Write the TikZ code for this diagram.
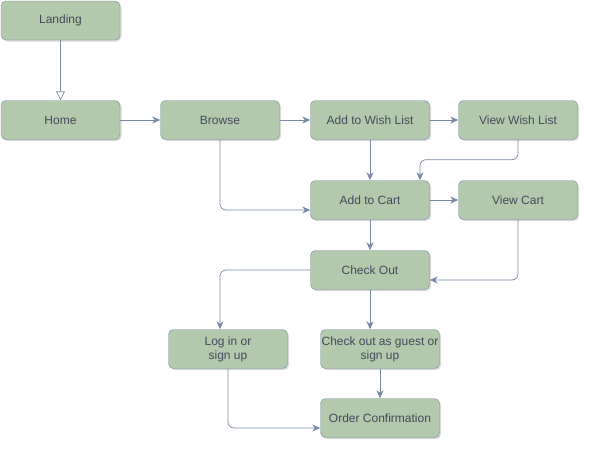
\documentclass[tikz,border=0pt]{standalone}
\usepackage{fontspec}
\setmainfont{Liberation Sans}
\usetikzlibrary{arrows.meta, shadows}
\definecolor{boxfill}{HTML}{B2C9AB}
\definecolor{boxline}{HTML}{788AA3}
\definecolor{boxtext}{HTML}{46495D}
\tikzset{
  page/.style={x=1pt, y=-1pt},
  box/.style={draw=boxline, fill=boxfill, text=boxtext, rounded corners=5pt,
    minimum width=119pt, minimum height=39pt, inner sep=0pt, align=center,
    font=\fontsize{12}{14}\selectfont,
    drop shadow={shadow xshift=1.5pt, shadow yshift=-1.5pt, opacity=0.25, fill=black!60}},
  link/.style={draw=boxline, line width=0.7pt, rounded corners=6pt,
    -{Stealth[length=8pt, width=7pt, inset=2.5pt]}},
}
\begin{document}
\begin{tikzpicture}[page]
  \useasboundingbox (0,0) rectangle (590,450);
  \node[box] (landing) at (60.5,20.5) {Landing};
  \node[box] (home) at (60.5,120) {Home};
  \node[box] (browse) at (220,120) {Browse};
  \node[box] (wish) at (370,120) {Add to Wish List};
  \node[box] (vwish) at (518,120) {View Wish List};
  \node[box] (cart) at (370,200) {Add to Cart};
  \node[box] (vcart) at (518,200) {View Cart};
  \node[box] (checkout) at (370,270) {Check Out};
  \node[box] (login) at (228,349) {Log in or\\sign up};
  \node[box] (guest) at (380,349) {Check out as guest or\\sign up};
  \node[box] (order) at (380,418) {Order Confirmation};
  % connectors
  \draw[draw=boxline, line width=0.7pt, -{Triangle[open, length=9pt, width=9pt]}] (landing) -- (home);
  \draw[link] (home) -- (browse);
  \draw[link] (browse) -- (wish);
  \draw[link] (wish) -- (vwish);
  \draw[link] (wish) -- (cart);
  \draw[link] (vwish.south) -- ++(0,20) -| ([xshift=50pt]cart.north);
  \draw[link] (browse.south) |- ([yshift=-10pt]cart.west);
  \draw[link] (cart) -- (vcart);
  \draw[link] (cart) -- (checkout);
  \draw[link] (vcart.south) |- ([yshift=-10pt]checkout.east);
  \draw[link] (checkout.west) -| ([xshift=-8pt]login.north);
  \draw[link] (checkout.south) -- (checkout.south |- guest.north);
  \draw[link] (guest) -- (order);
  \draw[link] (login.south) |- ([yshift=-10pt]order.west);
\end{tikzpicture}
\end{document}
